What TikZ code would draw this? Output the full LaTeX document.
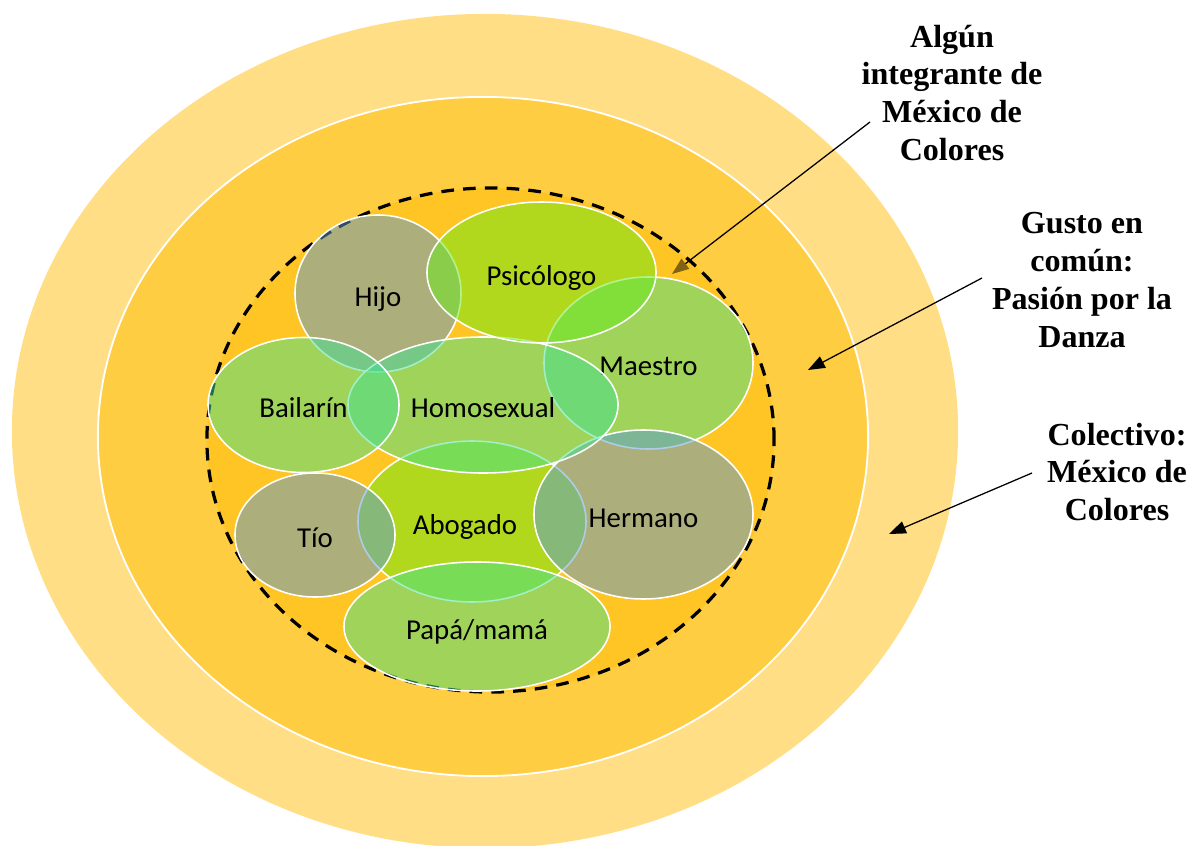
\documentclass[tikz,border=0pt]{standalone}
\usepackage{fontspec}
\setmainfont{Carlito}
\newfontfamily\sidefont{Liberation Serif}
\usetikzlibrary{shapes}
\usetikzlibrary{arrows.meta}
\definecolor{ringout}{HTML}{FFDE85}
\definecolor{ringmid}{HTML}{FFCD41}
\definecolor{ringin}{HTML}{FFC524}
\definecolor{blobblue}{HTML}{5B9BD5}
\definecolor{blobgreen}{HTML}{41E190}
\definecolor{bloblime}{HTML}{67EB1A}
\definecolor{arrowbrown}{HTML}{806212}

\begin{document}
\begin{tikzpicture}[x=0.025cm, y=-0.025cm,
  ring/.style={ellipse, inner sep=0pt},
  blob/.style={ellipse, draw=white, line width=1.1pt, fill opacity=0.5, text opacity=1, inner sep=0pt, text height=18pt, text depth=0pt, font=\fontsize{20.5}{24}\selectfont},
  side/.style={align=center, font=\sidefont\bfseries\fontsize{22.8}{27}\selectfont},
  pointer/.style={line width=0.9pt, -{Triangle[length=12pt, width=9pt]}}]
\useasboundingbox (0,0) rectangle (1191,846);
\node[ring, fill=ringout, minimum width=23.65cm, minimum height=20.85cm] (Colectivo) at (485,431) {};
\node[ring, fill=ringmid, draw=white, line width=1.3pt, minimum width=19.25cm, minimum height=16.975cm] (Gusto) at (483,436.5) {};
\node[ring, fill=ringin, draw=black, line width=2.3pt, dash pattern=on 9pt off 6.5pt, minimum width=14.175cm, minimum height=12.6cm] (Integrante) at (490.5,440) {};
\node[blob, fill=bloblime, minimum width=5.7cm, minimum height=4.025cm] (Abogado) at (472,521.5) {\hspace*{-0.35cm}Abogado};
\node[blob, fill=blobgreen, minimum width=5.225cm, minimum height=4.3cm] (Maestro) at (648.5,363) {Maestro};
\node[blob, fill=blobblue, minimum width=4.15cm, minimum height=3.925cm] (Hijo) at (378,293.5) {Hijo};
\node[blob, fill=blobblue, minimum width=5.475cm, minimum height=4.225cm] (Hermano) at (643.5,514.5) {Hermano};
\node[blob, fill=blobblue, minimum width=4cm, minimum height=3.1cm] (Tio) at (315,535) {Tío};
\node[blob, fill=blobgreen, minimum width=6.65cm, minimum height=3.225cm] (Papa) at (477,626.5) {Papá/mamá};
\node[blob, fill=blobgreen, minimum width=6.75cm, minimum height=3.4cm] (Homosexual) at (483,405) {Homosexual};
\node[blob, fill=blobgreen, minimum width=4.775cm, minimum height=3.375cm] (Bailarin) at (303.5,405) {Bailarín};
\node[blob, fill=bloblime, minimum width=5.725cm, minimum height=3.525cm] (Psicologo) at (541.5,272.5) {Psicólogo};
\node[side] (lblIntegrante) at (952,93) {Algún\\integrante de\\México de\\Colores};
\node[side] (lblGusto) at (1082,280) {Gusto en\\común:\\Pasión por la\\Danza};
\node[side] (lblColectivo) at (1117,472) {Colectivo:\\México de\\Colores};
\coordinate (fromIntegrante) at (870,122);
\coordinate (toIntegrante) at (672,274);
\coordinate (fromGusto) at (982,278);
\coordinate (toGusto) at (808,370);
\coordinate (fromColectivo) at (1032,473);
\coordinate (toColectivo) at (889,534);
\draw[line width=0.9pt, -{Triangle[length=12pt, width=9pt, color=arrowbrown]}] (fromIntegrante) -- (toIntegrante);
\draw[pointer] (fromGusto) -- (toGusto);
\draw[pointer] (fromColectivo) -- (toColectivo);
\end{tikzpicture}
\end{document}
